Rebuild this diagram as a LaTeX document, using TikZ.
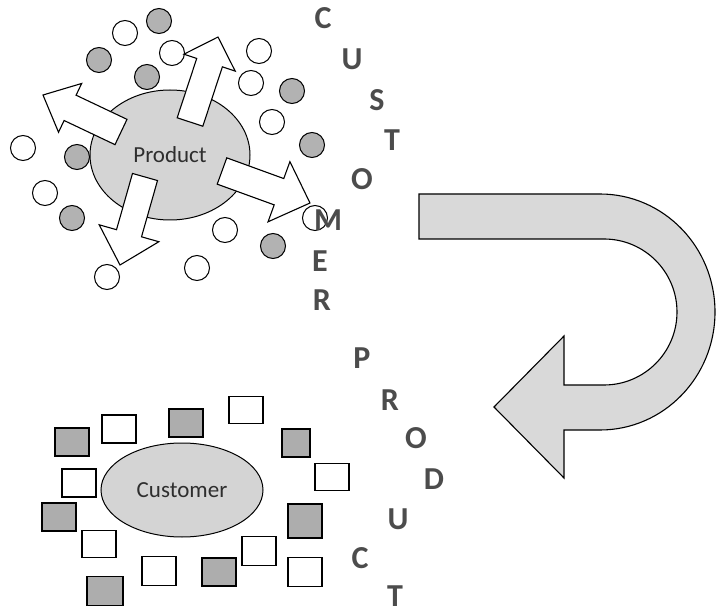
\documentclass[tikz,border=0pt]{standalone}
\usepackage{fontspec}
\newfontfamily\carlito{Carlito}
\usetikzlibrary{calc,shapes.geometric}
\newcommand\blockarr[6]{%
  \coordinate (#1t) at #2;
  \coordinate (#1p) at #3;
  \coordinate (#1h) at ($(#1p)!#6!(#1t)$);
  \draw[barrow] ($(#1t)!#4!90:(#1p)$) -- ($(#1h)!#4!90:(#1p)$) -- ($(#1h)!#5!90:(#1p)$)
    -- (#1p) -- ($(#1h)!#5!-90:(#1p)$) -- ($(#1h)!#4!-90:(#1p)$) -- ($(#1t)!#4!-90:(#1p)$) -- cycle;
}
\begin{document}
\begin{tikzpicture}[x=1pt,y=-1pt,
  circw/.style={circle, draw=black, line width=1pt, fill=white, minimum size=25pt, inner sep=0pt},
  circg/.style={circw, fill=black!30},
  sqw/.style={rectangle, draw=black, line width=1.3pt, fill=white, minimum width=34pt, minimum height=28pt, inner sep=0pt},
  sqg/.style={sqw, fill=black!32},
  bigell/.style={ellipse, draw=black, line width=1pt, fill=black!17, inner sep=0pt},
  barrow/.style={draw=black, line width=1.1pt, fill=white, line join=miter},
  uturn/.style={draw=black, line width=1.1pt, fill=black!15},
  letter/.style={font=\carlito\bfseries\fontsize{32}{36}\selectfont, text=black!70, inner sep=0pt},
  lbl/.style={font=\carlito\fontsize{23}{27}\selectfont, text=black!82}
]
\useasboundingbox (0,0) rectangle (716,615);
% circles
\node[circw] (c1) at (125,33) {};
\node[circg] (c2) at (159,21) {};
\node[circg] (c3) at (99,60) {};
\node[circw] (c4) at (172,53) {};
\node[circg] (c5) at (147,77) {};
\node[circw] (c6) at (259,51) {};
\node[circw] (c7) at (251,83) {};
\node[circg] (c8) at (292,91) {};
\node[circw] (c9) at (272,122) {};
\node[circg] (c10) at (312,145) {};
\node[circw] (c11) at (23,148) {};
\node[circg] (c12) at (77,157) {};
\node[circw] (c13) at (45,193) {};
\node[circg] (c14) at (72,218) {};
\node[circw] (c15) at (225,230) {};
\node[circg] (c16) at (273,246) {};
\node[circw] (c17) at (315,218) {};
\node[circw] (c18) at (107,277) {};
\node[circw] (c19) at (197,268) {};
% product ellipse
\node[bigell, minimum width=160pt, minimum height=130pt] (prod) at (170,155) {};
% block arrows
\blockarr{a1}{(190,122)}{(218,37)}{13.5pt}{27pt}{27pt}
\blockarr{a2}{(121,132)}{(43,95)}{14pt}{27pt}{30pt}
\blockarr{a3}{(145,177)}{(120,265)}{13pt}{31pt}{33pt}
\blockarr{a4}{(222,171)}{(310,203)}{14pt}{32pt}{33pt}
\node[lbl] (prodt) at (170,155) {Product};
% customer ellipse and squares
\node[sqg] (s1) at (72,442) {};
\node[sqw] (s2) at (119,429) {};
\node[sqg] (s3) at (186,423) {};
\node[sqw, minimum height=27pt] (s4) at (246,410) {};
\node[sqg, minimum width=28pt] (s5) at (296,443) {};
\node[sqw, minimum height=27pt] (s6) at (332,477) {};
\node[sqw] (s7) at (79,483) {};
\node[sqg] (s8) at (59,517) {};
\node[sqg, minimum height=34pt] (s9) at (305,521) {};
\node[sqw, minimum height=27pt] (s10) at (99,544) {};
\node[sqw, minimum height=29pt] (s11) at (259,551) {};
\node[sqw, minimum height=29pt] (s12) at (159,571) {};
\node[sqg] (s13) at (219,572) {};
\node[sqw, minimum height=29pt] (s14) at (305,572) {};
\node[sqg, minimum width=36pt, minimum height=29pt] (s15) at (105,591) {};
\node[bigell, minimum width=162pt, minimum height=94pt] (cust) at (182,490) {};
\node[lbl] (custt) at (182,490) {Customer};
% U-turn arrow
\coordinate (u0) at (419,194);
\coordinate (u1) at (600,194);
\coordinate (u2) at (564,430);
\coordinate (u3) at (564,478);
\coordinate (utip) at (494,407);
\coordinate (u4) at (564,336);
\coordinate (u5) at (564,385);
\coordinate (u6) at (604,385);
\coordinate (u7) at (419,239);
\draw[uturn] (u0) -- (u1) arc[start angle=90, end angle=-90, x radius=115pt, y radius=118pt]
  -- (u2) -- (u3) -- (utip) -- (u4) -- (u5) -- (u6)
  arc[start angle=-90, end angle=90, x radius=73pt, y radius=73pt] -- (u7) -- cycle;
% letters
\node[letter] (L1) at (323,18) {C};
\node[letter] (L2) at (352,59) {U};
\node[letter] (L3) at (377,100) {S};
\node[letter] (L4) at (392,140) {T};
\node[letter] (L5) at (362,179) {O};
\node[letter] (L6) at (328,220) {M};
\node[letter] (L7) at (320,261) {E};
\node[letter] (L8) at (322,300) {R};
\node[letter] (L9) at (362,358) {P};
\node[letter] (L10) at (390,400) {R};
\node[letter] (L11) at (416,438) {O};
\node[letter] (L12) at (434,479) {D};
\node[letter] (L13) at (398,519) {U};
\node[letter] (L14) at (360,558) {C};
\node[letter] (L15) at (395,596) {T};
\end{tikzpicture}
\end{document}
